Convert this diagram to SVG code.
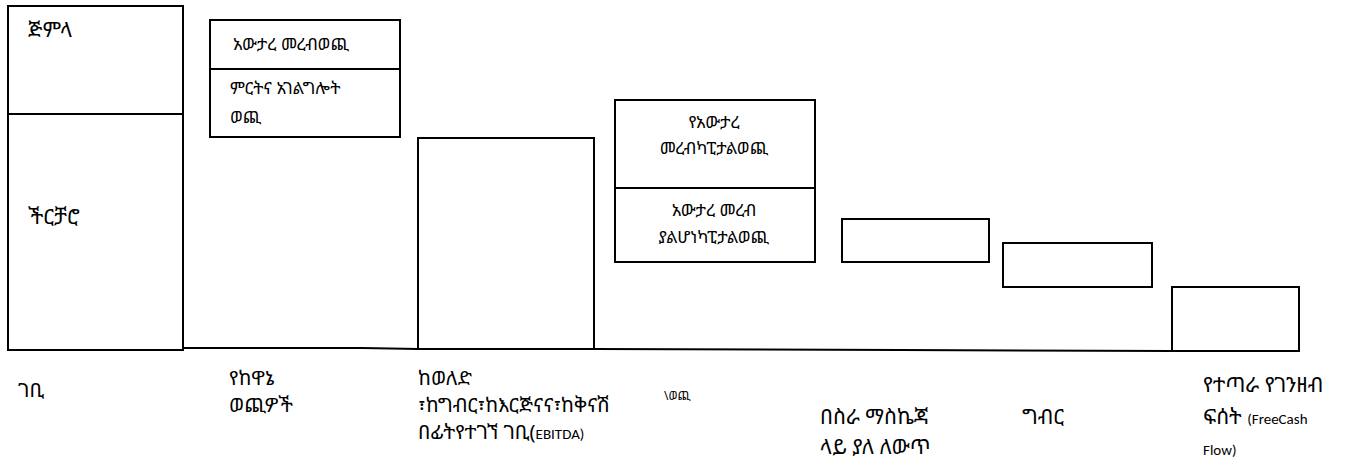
<svg xmlns="http://www.w3.org/2000/svg" width="1371" height="465" viewBox="0 0 1371 465">
<style>
.box{fill:#fff;stroke:#000;stroke-width:2}
.ln{fill:none;stroke:#000;stroke-width:2}
.et{font-family:"Noto Sans Ethiopic","Noto Serif Ethiopic","Abyssinica SIL","Noto Sans",sans-serif;fill:#000}
.lat{font-family:Carlito,"Open Sans","Noto Sans",sans-serif}
.big{font-size:21px}
.mid{font-size:17px}
.lab{font-size:20px}
.lab2{font-size:21px}
</style>
<rect width="1371" height="465" fill="#fff"/>
<g id="connectors">
<polyline class="ln" points="183,348 362,348 418,349"/>
<polyline class="ln" points="594,349 900,350 1172,351"/>
</g>
<g id="node-revenue">
<rect class="box" x="8" y="6" width="175" height="344"/>
<line class="ln" x1="8" y1="114" x2="183" y2="114"/>
<text class="et big" x="28" y="37">ጅምላ</text>
<text class="et big" x="28" y="224">ችርቻሮ</text>
</g>
<g id="node-opex">
<rect class="box" x="210" y="20" width="190" height="117"/>
<line class="ln" x1="210" y1="69" x2="400" y2="69"/>
<text class="et mid" x="233" y="50">አውታረ መረብወጪ</text>
<text class="et mid" x="230" y="94">ምርትና አገልግሎት</text>
<text class="et mid" x="230" y="123">ወጪ</text>
</g>
<g id="node-ebitda">
<rect class="box" x="418" y="138" width="176" height="211"/>
</g>
<g id="node-capex">
<rect class="box" x="615" y="100" width="200" height="162"/>
<line class="ln" x1="615" y1="188" x2="815" y2="188"/>
<text class="et mid" x="714" y="128" text-anchor="middle">የአውታረ</text>
<text class="et mid" x="714" y="154" text-anchor="middle">መረብካፒታልወጪ</text>
<text class="et mid" x="714" y="216" text-anchor="middle">አውታረ መረብ</text>
<text class="et mid" x="714" y="243" text-anchor="middle">ያልሆነካፒታልወጪ</text>
</g>
<g id="node-wc">
<rect class="box" x="842" y="219" width="147" height="43"/>
</g>
<g id="node-tax">
<rect class="box" x="1003" y="243" width="149" height="44"/>
</g>
<g id="node-fcf">
<rect class="box" x="1172" y="287" width="127" height="64"/>
</g>
<g id="labels">
<text class="et lab" x="18" y="397">ገቢ</text>
<text class="et lab" x="229" y="385">የከዋኔ</text>
<text class="et lab" x="229" y="412">ወጪዎች</text>
<text class="et lab" x="418" y="385">ከወለድ</text>
<text class="et lab" x="418" y="412">፣ከግብር፣ከእርጅናና፣ከቅናሽ</text>
<text class="et lab" x="418" y="439">በፊትየተገኘ ገቢ(<tspan class="lat" font-size="15">EBITDA)</tspan></text>
<text class="et" font-size="12" x="664" y="400">\ወጪ</text>
<text class="et lab2" x="820" y="424">በስራ ማስኬጃ</text>
<text class="et lab2" x="820" y="454">ላይ ያለ ለውጥ</text>
<text class="et lab2" x="1022" y="424">ግብር</text>
<text class="et lab2" x="1203" y="392">የተጣራ የገንዘብ</text>
<text class="et lab2" x="1203" y="424">ፍሰት <tspan class="lat" font-size="15">(FreeCash</tspan></text>
<text class="lat" font-size="15" x="1203" y="455">Flow)</text>
</g>
</svg>
